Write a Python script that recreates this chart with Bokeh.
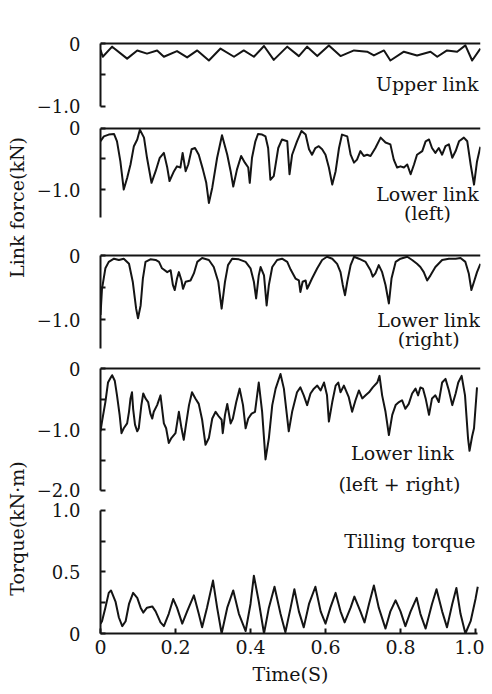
import math
from bokeh.plotting import figure
from bokeh.models import Range1d, FixedTicker, Span, Label
from bokeh.layouts import row, column
from bokeh.embed import file_html
from bokeh.resources import INLINE

# ---------------- data (time in s, force in kN, torque in kN*m) ----------------
t_upper = [0.0, 0.006, 0.031, 0.071, 0.098, 0.124, 0.151, 0.169, 0.204, 0.231, 0.258, 0.289, 0.32, 0.356,
           0.382, 0.409, 0.436, 0.462, 0.498, 0.529, 0.551, 0.578, 0.609, 0.64, 0.676, 0.711, 0.729, 0.756,
           0.773, 0.809, 0.844, 0.88, 0.898, 0.924, 0.951, 0.973, 0.991, 1.013]
upper_link = [-0.10, -0.21, -0.05, -0.24, -0.11, -0.16, -0.11, -0.21, -0.12, -0.22, -0.11, -0.27, -0.08,
              -0.21, -0.11, -0.21, -0.04, -0.26, -0.05, -0.20, -0.05, -0.20, -0.03, -0.20, -0.11, -0.13,
              -0.19, -0.11, -0.27, -0.13, -0.19, -0.13, -0.21, -0.11, -0.13, -0.03, -0.27, -0.08]

t_left = [0.0, 0.009, 0.022, 0.036, 0.044, 0.053, 0.062, 0.071, 0.08, 0.089, 0.098, 0.105, 0.116, 0.124,
          0.136, 0.147, 0.158, 0.169, 0.178, 0.184, 0.196, 0.204, 0.213, 0.219, 0.227, 0.234, 0.243, 0.252,
          0.262, 0.273, 0.282, 0.289, 0.298, 0.311, 0.324, 0.338, 0.347, 0.354, 0.364, 0.375, 0.385, 0.394,
          0.398, 0.404, 0.413, 0.42, 0.431, 0.44, 0.447, 0.453, 0.462, 0.474, 0.484, 0.498, 0.504, 0.511,
          0.524, 0.536, 0.547, 0.556, 0.564, 0.573, 0.582, 0.591, 0.6, 0.609, 0.618, 0.627, 0.636, 0.644,
          0.658, 0.667, 0.676, 0.684, 0.693, 0.702, 0.711, 0.72, 0.733, 0.747, 0.76, 0.773, 0.782, 0.791,
          0.8, 0.809, 0.818, 0.827, 0.836, 0.844, 0.858, 0.867, 0.876, 0.884, 0.893, 0.902, 0.911, 0.92,
          0.929, 0.938, 0.947, 0.956, 0.969, 0.978, 0.987, 0.996, 1.004, 1.013]
lower_left = [-0.21, -0.13, -0.10, -0.09, -0.21, -0.54, -1.00, -0.81, -0.59, -0.29, -0.18, -0.02, -0.15,
              -0.48, -0.89, -0.70, -0.48, -0.40, -0.64, -0.86, -0.70, -0.62, -0.64, -0.40, -0.70, -0.59,
              -0.34, -0.32, -0.43, -0.67, -0.89, -1.22, -0.97, -0.48, -0.11, -0.43, -0.70, -0.95, -0.67,
              -0.45, -0.56, -0.64, -0.89, -0.48, -0.21, -0.09, -0.10, -0.13, -0.32, -0.84, -0.78, -0.32,
              -0.18, -0.21, -0.75, -0.43, -0.21, -0.04, -0.10, -0.34, -0.43, -0.32, -0.29, -0.34, -0.43,
              -0.64, -0.92, -0.70, -0.32, -0.10, -0.13, -0.43, -0.56, -0.51, -0.37, -0.45, -0.43, -0.45,
              -0.32, -0.15, -0.23, -0.26, -0.51, -0.64, -0.62, -0.64, -0.59, -0.75, -0.59, -0.43, -0.37,
              -0.21, -0.18, -0.32, -0.40, -0.32, -0.43, -0.29, -0.26, -0.48, -0.37, -0.21, -0.15, -0.21,
              -0.59, -0.92, -0.54, -0.30]

t_right = [0.0, 0.004, 0.013, 0.022, 0.036, 0.049, 0.062, 0.076, 0.086, 0.095, 0.1, 0.107, 0.113, 0.12,
           0.133, 0.147, 0.156, 0.164, 0.178, 0.187, 0.193, 0.198, 0.204, 0.209, 0.216, 0.22, 0.227, 0.24,
           0.249, 0.258, 0.271, 0.289, 0.302, 0.314, 0.323, 0.332, 0.34, 0.351, 0.369, 0.387, 0.4, 0.409,
           0.415, 0.422, 0.427, 0.436, 0.443, 0.449, 0.458, 0.471, 0.484, 0.498, 0.507, 0.52, 0.529, 0.533,
           0.539, 0.547, 0.551, 0.556, 0.564, 0.578, 0.591, 0.604, 0.618, 0.631, 0.64, 0.646, 0.652, 0.658,
           0.667, 0.676, 0.689, 0.707, 0.72, 0.726, 0.733, 0.742, 0.751, 0.76, 0.769, 0.776, 0.787, 0.8,
           0.818, 0.831, 0.844, 0.853, 0.862, 0.871, 0.88, 0.893, 0.911, 0.929, 0.947, 0.96, 0.973, 0.982,
           0.989, 0.996, 1.004, 1.013]
lower_right = [-0.93, -0.52, -0.20, -0.10, -0.05, -0.07, -0.05, -0.13, -0.41, -0.83, -0.98, -0.78, -0.36,
               -0.10, -0.06, -0.07, -0.10, -0.20, -0.26, -0.23, -0.46, -0.54, -0.36, -0.26, -0.39, -0.52,
               -0.41, -0.39, -0.28, -0.10, -0.04, -0.07, -0.18, -0.41, -0.83, -0.41, -0.15, -0.05, -0.06,
               -0.10, -0.20, -0.41, -0.67, -0.31, -0.18, -0.31, -0.78, -0.46, -0.18, -0.07, -0.05, -0.10,
               -0.22, -0.36, -0.39, -0.57, -0.41, -0.39, -0.52, -0.46, -0.36, -0.20, -0.07, -0.02, -0.05,
               -0.13, -0.26, -0.46, -0.62, -0.41, -0.15, -0.02, -0.05, -0.10, -0.23, -0.33, -0.28, -0.15,
               -0.26, -0.46, -0.75, -0.36, -0.10, -0.05, -0.02, -0.07, -0.13, -0.18, -0.26, -0.39, -0.31,
               -0.18, -0.07, -0.05, -0.05, -0.04, -0.10, -0.28, -0.54, -0.41, -0.26, -0.13]

t_sum = [0.0, 0.004, 0.013, 0.02, 0.027, 0.031, 0.038, 0.044, 0.051, 0.056, 0.062, 0.071, 0.076, 0.08,
         0.084, 0.087, 0.092, 0.098, 0.102, 0.109, 0.114, 0.12, 0.127, 0.133, 0.138, 0.142, 0.151, 0.16,
         0.169, 0.175, 0.182, 0.189, 0.2, 0.209, 0.216, 0.222, 0.228, 0.236, 0.244, 0.253, 0.262, 0.271,
         0.28, 0.289, 0.298, 0.307, 0.316, 0.323, 0.326, 0.332, 0.338, 0.347, 0.353, 0.362, 0.371, 0.38,
         0.387, 0.394, 0.403, 0.412, 0.422, 0.431, 0.44, 0.449, 0.458, 0.467, 0.48, 0.489, 0.502, 0.511,
         0.524, 0.533, 0.542, 0.551, 0.56, 0.569, 0.578, 0.587, 0.596, 0.604, 0.609, 0.618, 0.627, 0.634,
         0.64, 0.649, 0.662, 0.671, 0.68, 0.689, 0.698, 0.707, 0.716, 0.726, 0.738, 0.744, 0.751, 0.76,
         0.769, 0.778, 0.787, 0.796, 0.804, 0.813, 0.822, 0.831, 0.84, 0.847, 0.853, 0.86, 0.867, 0.876,
         0.884, 0.893, 0.902, 0.911, 0.92, 0.929, 0.938, 0.947, 0.954, 0.963, 0.972, 0.98, 0.984, 0.991,
         0.996, 1.004]
lower_sum = [-1.03, -0.87, -0.55, -0.23, -0.15, -0.11, -0.20, -0.44, -0.76, -1.06, -0.98, -0.90, -0.71,
             -0.49, -0.39, -0.66, -0.92, -1.03, -0.98, -0.60, -0.41, -0.49, -0.55, -0.74, -0.82, -0.71,
             -0.60, -0.44, -0.90, -0.98, -1.22, -1.14, -1.06, -0.71, -0.98, -1.17, -0.92, -0.60, -0.39,
             -0.49, -0.58, -0.84, -1.25, -1.14, -0.82, -0.71, -0.79, -0.84, -1.06, -0.76, -0.58, -0.90,
             -0.82, -0.55, -0.33, -0.60, -0.98, -0.82, -0.74, -0.71, -0.23, -0.71, -1.49, -1.14, -0.60,
             -0.33, -0.09, -0.33, -1.03, -0.71, -0.39, -0.31, -0.44, -0.60, -0.41, -0.33, -0.28, -0.36,
             -0.23, -0.44, -0.87, -0.55, -0.28, -0.23, -0.39, -0.28, -0.47, -0.71, -0.52, -0.36, -0.49,
             -0.44, -0.39, -0.31, -0.23, -0.12, -0.44, -0.71, -1.09, -0.76, -0.60, -0.55, -0.52, -0.66,
             -0.58, -0.41, -0.33, -0.44, -0.31, -0.33, -0.49, -0.76, -0.49, -0.44, -0.55, -0.23, -0.17,
             -0.36, -0.60, -0.41, -0.23, -0.12, -0.44, -1.14, -1.35, -1.11, -0.98, -0.31]

t_torque = [0.0, 0.004, 0.013, 0.022, 0.028, 0.04, 0.049, 0.058, 0.067, 0.076, 0.087, 0.098, 0.107, 0.114,
            0.124, 0.138, 0.147, 0.16, 0.169, 0.182, 0.194, 0.204, 0.218, 0.231, 0.249, 0.262, 0.271, 0.284,
            0.3, 0.311, 0.323, 0.338, 0.354, 0.369, 0.387, 0.4, 0.409, 0.422, 0.436, 0.449, 0.464, 0.48,
            0.493, 0.507, 0.517, 0.529, 0.542, 0.556, 0.573, 0.587, 0.6, 0.613, 0.627, 0.64, 0.651, 0.667,
            0.677, 0.693, 0.704, 0.716, 0.729, 0.742, 0.76, 0.773, 0.787, 0.8, 0.813, 0.827, 0.843, 0.853,
            0.867, 0.884, 0.896, 0.911, 0.924, 0.938, 0.949, 0.96, 0.973, 0.987, 1.0, 1.006]
tilling_torque = [0.08, 0.10, 0.21, 0.33, 0.35, 0.26, 0.13, 0.06, 0.10, 0.24, 0.33, 0.29, 0.21, 0.17,
                  0.21, 0.22, 0.18, 0.09, 0.06, 0.16, 0.28, 0.21, 0.08, 0.18, 0.31, 0.16, 0.05, 0.21, 0.43,
                  0.21, 0.0, 0.21, 0.35, 0.16, 0.02, 0.24, 0.47, 0.26, 0.0, 0.21, 0.38, 0.16, 0.01, 0.21,
                  0.36, 0.18, 0.05, 0.24, 0.38, 0.18, 0.08, 0.21, 0.33, 0.18, 0.09, 0.21, 0.30, 0.18, 0.09,
                  0.24, 0.39, 0.21, 0.04, 0.18, 0.27, 0.18, 0.06, 0.18, 0.29, 0.16, 0.04, 0.24, 0.36, 0.18,
                  0.05, 0.24, 0.37, 0.16, 0.0, 0.10, 0.28, 0.38]

time_ticks = [0, 0.2, 0.4, 0.6, 0.8, 1.0]
time_tick_labels = ["0", "0.2", "0.4", "0.6", "0.8", "1.0"]

# ---------------- styling ----------------
FONT = "DejaVu Serif"
INK = "#141414"
TICK_FS = "18px"
TEXT_FS = "19px"

xr = Range1d(0, 1.0133)


def panel(h, bottom, yr, bounds, ticks, labels, with_x=False):
    p = figure(width=454, height=h, x_range=xr, y_range=Range1d(*yr),
               toolbar_location=None, output_backend="svg",
               min_border_left=70, min_border_right=4,
               min_border_top=0, min_border_bottom=bottom,
               x_axis_location="below" if with_x else None,
               outline_line_color=None, background_fill_color="white",
               border_fill_color="white")
    p.grid.visible = False
    ya = p.yaxis[0]
    ya.ticker = FixedTicker(ticks=ticks)
    ya.major_label_overrides = labels
    ya.bounds = bounds
    ya.axis_line_width = 2
    ya.axis_line_color = INK
    ya.major_tick_in = 5
    ya.major_tick_out = 0
    ya.major_tick_line_width = 2
    ya.major_tick_line_color = INK
    ya.minor_tick_line_color = None
    ya.major_label_standoff = 20
    ya.major_label_text_font = FONT
    ya.major_label_text_font_size = TICK_FS
    ya.major_label_text_color = INK
    return p


def add_text(p, x, y, text, align):
    p.add_layout(Label(x=x, y=y, text=text, text_font=FONT, text_font_size=TEXT_FS,
                       text_color=INK, text_align=align, text_baseline="middle"))


def zero_line(p):
    p.add_layout(Span(location=0, dimension="width", line_color=INK, line_width=2))


p1 = panel(117, 0, (-1.175, 0.683), (-1.0, 0), [-1.0, -0.5, 0],
           {-1.0: "\u22121.0", -0.5: "", 0: "0"})
zero_line(p1)
p1.line(t_upper, upper_link, line_color=INK, line_width=2, line_join="round")
add_text(p1, 1.008, -0.65, "Upper link", "right")

p2 = panel(119, 0, (-1.770, 0.180), (-1.46, 0), [-1.0, -0.5, 0],
           {-1.0: "\u22121.0", -0.5: "", 0: "0"})
zero_line(p2)
p2.line(t_left, lower_left, line_color=INK, line_width=2, line_join="round")
add_text(p2, 0.872, -1.07, "Lower link", "center")
add_text(p2, 0.872, -1.38, "(left)", "center")

p3 = panel(120, 0, (-1.578, 0.297), (-1.45, 0), [-1.0, -0.5, 0],
           {-1.0: "\u22121.0", -0.5: "", 0: "0"})
zero_line(p3)
p3.line(t_right, lower_right, line_color=INK, line_width=2, line_join="round")
add_text(p3, 0.875, -1.0, "Lower link", "center")
add_text(p3, 0.875, -1.30, "(right)", "center")

p4 = panel(144, 0, (-2.164, 0.197), (-2.0, 0), [-2.0, -1.5, -1.0, -0.5, 0],
           {-2.0: "\u22122.0", -1.5: "", -1.0: "\u22121.0", -0.5: "", 0: "0"})
zero_line(p4)
p4.line(t_sum, lower_sum, line_color=INK, line_width=2, line_join="round")
add_text(p4, 0.805, -1.39, "Lower link", "center")
add_text(p4, 0.797, -1.89, "(left + right)", "center")

p5 = panel(194, 61, (0, 1.081), (0, 1.0), [0, 0.25, 0.5, 0.75, 1.0],
           {0: "0", 0.25: "", 0.5: "0.5", 0.75: "", 1.0: "1.0"}, with_x=True)
p5.line(t_torque, tilling_torque, line_color=INK, line_width=2, line_join="round")
add_text(p5, 1.0, 0.75, "Tilling torque", "right")
xa = p5.xaxis[0]
xa.ticker = FixedTicker(ticks=time_ticks)
xa.major_label_overrides = dict(zip(time_ticks, time_tick_labels))
xa.bounds = (0, 1.005)
xa.axis_line_width = 2
xa.axis_line_color = INK
xa.major_tick_in = 5
xa.major_tick_out = 0
xa.major_tick_line_width = 2
xa.major_tick_line_color = INK
xa.minor_tick_line_color = None
xa.major_label_standoff = 6
xa.major_label_text_font = FONT
xa.major_label_text_font_size = "19px"
xa.major_label_text_color = INK
xa.axis_label = "Time(S)"
xa.axis_label_standoff = 6
xa.axis_label_text_font = FONT
xa.axis_label_text_font_size = "19px"
xa.axis_label_text_font_style = "normal"
xa.axis_label_text_color = INK

# left strip holding the rotated axis titles (coordinates = page pixels)
lab = figure(width=30, height=694, x_range=Range1d(0, 30), y_range=Range1d(694, 0),
             toolbar_location=None, output_backend="svg", min_border=0,
             min_border_left=0, min_border_right=0, min_border_top=0, min_border_bottom=0,
             x_axis_location=None, y_axis_location=None, outline_line_color=None)
lab.grid.visible = False
lab.add_layout(Label(x=16, y=207, text="Link force(kN)", angle=math.pi / 2, text_font=FONT,
                     text_font_size=TEXT_FS, text_color=INK, text_align="center",
                     text_baseline="middle"))
lab.add_layout(Label(x=16, y=528, text="Torque(kN\u00b7m)", angle=math.pi / 2, text_font=FONT,
                     text_font_size=TEXT_FS, text_color=INK, text_align="center",
                     text_baseline="middle"))

layout = row(lab, column(p1, p2, p3, p4, p5, spacing=0), spacing=0)

open("out.html", "w").write(file_html(layout, INLINE))
